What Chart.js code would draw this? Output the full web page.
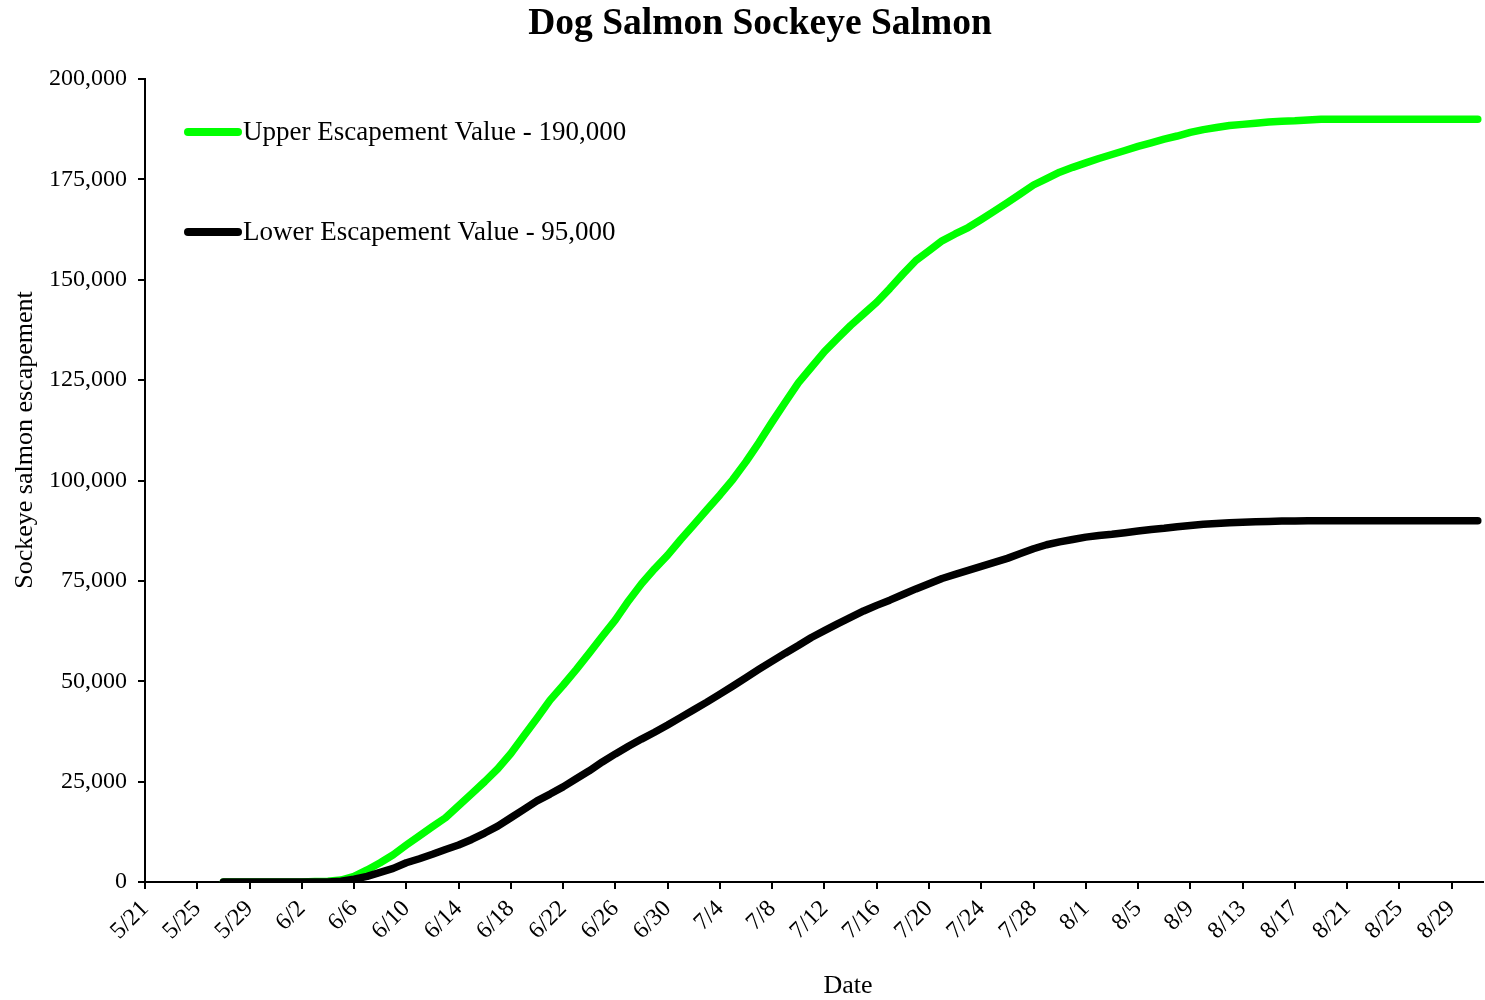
<!DOCTYPE html>
<html>
<head>
<meta charset="utf-8">
<title>Dog Salmon Sockeye Salmon</title>
<script src="https://cdn.jsdelivr.net/npm/chart.js@4.4.0/dist/chart.umd.min.js"></script>
<style>
  html, body { margin: 0; padding: 0; background: #fff; }
</style>
</head>
<body>
<canvas id="chart" width="1485" height="1000"></canvas>
<script>
// x軸は 5/21 を 0 日目とした通し日数
const tickLabels = ['5/21', '5/25', '5/29', '6/2', '6/6', '6/10', '6/14', '6/18', '6/22', '6/26',
    '6/30', '7/4', '7/8', '7/12', '7/16', '7/20', '7/24', '7/28', '8/1', '8/5',
    '8/9', '8/13', '8/17', '8/21', '8/25', '8/29'];
const firstDay = 6; // 5/27 から毎日 (最終 8/31)

// Upper Escapement Value - 190,000
const upperValues = [
    0, 0, 0, 0, 0, 0, 0,
    100, 200, 500, 1400, 3000, 4800, 6800, 9200,
    11500, 13800, 16000, 19000, 22000, 25000, 28200, 32000, 36400, 40800,
    45300, 49000, 52900, 57000, 61200, 65300, 70000, 74300, 78000, 81400,
    85300, 89000, 92700, 96400, 100300, 104700, 109500, 114600, 119500, 124300,
    128200, 132100, 135400, 138600, 141500, 144400, 147800, 151400, 154800, 157200,
    159700, 161400, 163000, 165000, 167100, 169200, 171400, 173600, 175200, 176800,
    178000, 179100, 180200, 181200, 182200, 183200, 184100, 185000, 185800, 186700,
    187400, 187900, 188400, 188700, 189000, 189300, 189500, 189600, 189800, 190000,
    190000, 190000, 190000, 190000, 190000, 190000, 190000, 190000, 190000, 190000, 190000, 190000
];

// Lower Escapement Value - 95,000
const lowerValues = [
    0, 0, 0, 0, 0, 0, 0, 0, 0,
    200, 700, 1400, 2400, 3400, 4800,
    5800, 6900, 8100, 9200, 10600, 12200, 13900, 16000, 18100, 20200,
    21900, 23700, 25700, 27700, 29900, 31900, 33800, 35600, 37300, 39100,
    41000, 42900, 44800, 46800, 48800, 50900, 53000, 55000, 57000, 58900,
    60900, 62600, 64300, 65900, 67500, 68900, 70200, 71600, 73000, 74300,
    75600, 76600, 77600, 78600, 79600, 80600, 81800, 83000, 84000, 84700,
    85300, 85900, 86300, 86600, 87000, 87400, 87800, 88100, 88500, 88800,
    89100, 89300, 89500, 89600, 89700, 89800, 89900, 89900, 90000, 90000,
    90000, 90000, 90000, 90000, 90000, 90000, 90000, 90000, 90000, 90000, 90000, 90000
];

const chartTitle = 'Dog Salmon Sockeye Salmon';
const xAxisTitle = 'Date';
const yAxisTitle = 'Sockeye salmon escapement';

const toPoints = (values) => values.map((v, i) => ({ x: firstDay + i, y: v }));

const FONT = '"Liberation Serif", "Times New Roman", serif';

// 凡例はプロット内左上に手描き
const insideLegend = {
    id: 'insideLegend',
    afterDatasetsDraw(chart, args, opts) {
        const ctx = chart.ctx;
        ctx.save();
        ctx.font = '27px ' + FONT;
        ctx.textBaseline = 'middle';
        ctx.textAlign = 'left';
        chart.data.datasets.forEach((ds, i) => {
            const y = opts.top + i * opts.gap;
            ctx.strokeStyle = ds.borderColor;
            ctx.lineWidth = 8;
            ctx.lineCap = 'round';
            ctx.beginPath();
            ctx.moveTo(opts.left, y);
            ctx.lineTo(opts.left + opts.sample, y);
            ctx.stroke();
            ctx.fillStyle = '#000';
            ctx.fillText(ds.label, opts.left + opts.sample + 5, y + 1);
        });
        ctx.restore();
    }
};

// タイトル・軸タイトル（Excel 由来の中心ずれに合わせて手描き）
const chartTexts = {
    id: 'chartTexts',
    afterDraw(chart) {
        const ctx = chart.ctx;
        ctx.save();
        ctx.fillStyle = '#000';
        ctx.textAlign = 'center';
        ctx.textBaseline = 'alphabetic';

        ctx.font = 'bold 37.5px ' + FONT;
        ctx.fillText(chartTitle, 760, 34);

        ctx.font = '26px ' + FONT;
        ctx.fillText(xAxisTitle, 848, 993);

        ctx.translate(32, 440);
        ctx.rotate(-Math.PI / 2);
        ctx.fillText(yAxisTitle, 0, 0);
        ctx.restore();
    }
};

new Chart(document.getElementById('chart'), {
    type: 'line',
    data: {
        datasets: [{
            label: 'Upper Escapement Value - 190,000',
            data: toPoints(upperValues),
            borderColor: '#00ff00',
            borderWidth: 7.5,
            borderCapStyle: 'round',
            borderJoinStyle: 'round',
            pointRadius: 0,
            tension: 0,
            order: 1
        }, {
            label: 'Lower Escapement Value - 95,000',
            data: toPoints(lowerValues),
            borderColor: '#000000',
            borderWidth: 7.5,
            borderCapStyle: 'round',
            borderJoinStyle: 'round',
            pointRadius: 0,
            tension: 0,
            order: 0
        }]
    },
    options: {
        responsive: false,
        animation: false,
        layout: { padding: { left: 0, right: 2, top: 79, bottom: 0 } },
        plugins: {
            legend: { display: false },
            tooltip: { enabled: false },
            title: { display: false },
            insideLegend: { left: 188, sample: 50, top: 132, gap: 100 }
        },
        scales: {
            x: {
                type: 'linear',
                min: 0,
                max: 102.4,
                afterFit: (scale) => { scale.height = 118; },
                grid: { drawOnChartArea: false, drawTicks: true, tickLength: 7, color: '#000', lineWidth: 2 },
                border: { color: '#000', width: 2 },
                ticks: {
                    stepSize: 4,
                    includeBounds: false,
                    autoSkip: false,
                    minRotation: 45,
                    maxRotation: 45,
                    padding: 6,
                    color: '#000',
                    font: { family: FONT, size: 24 },
                    callback: (value) => (value % 4 === 0 ? tickLabels[value / 4] : '')
                }
            },
            y: {
                min: 0,
                max: 200000,
                afterFit: (scale) => { scale.width = 145; },
                grid: { drawOnChartArea: false, drawTicks: true, tickLength: 7, color: '#000', lineWidth: 2 },
                border: { color: '#000', width: 2 },
                ticks: {
                    stepSize: 25000,
                    padding: 11,
                    color: '#000',
                    font: { family: FONT, size: 24 },
                    callback: (value) => value.toLocaleString('en-US')
                }
            }
        }
    },
    plugins: [insideLegend, chartTexts]
});
</script>
</body>
</html>
